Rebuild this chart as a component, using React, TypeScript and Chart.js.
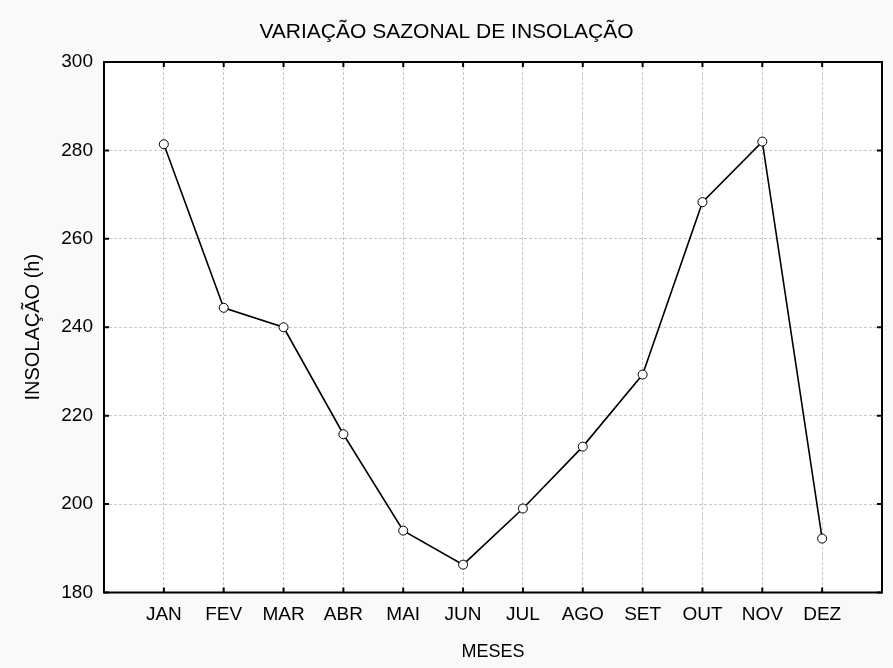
import { useEffect, useRef } from 'react';
import { Chart, registerables } from 'chart.js';

Chart.register(...registerables);

const MONTHS = ['JAN', 'FEV', 'MAR', 'ABR', 'MAI', 'JUN', 'JUL', 'AGO', 'SET', 'OUT', 'NOV', 'DEZ'];
const INSOLACAO = [281.4, 244.4, 240.0, 215.8, 194.0, 186.3, 199.0, 213.0, 229.3, 268.3, 282.0, 192.2];
const Y_TICKS = [180, 200, 220, 240, 260, 280, 300];
const TITLE = 'VARIAÇÃO SAZONAL DE INSOLAÇÃO';
const X_TITLE = 'MESES';
const Y_TITLE = 'INSOLAÇÃO (h)';

const FONT = "'Liberation Sans', Arial, sans-serif";
const TICK_SIZE = 19;
const TITLE_SIZE = 21;
const XTITLE_SIZE = 18;
const YTITLE_SIZE = 20;

export default function App() {
  const ref = useRef<HTMLCanvasElement>(null);

  useEffect(() => {
    const canvas = ref.current;
    if (!canvas) return;

    const framePlugin = {
      id: 'frame',
      beforeDraw(chart: any) {
        const { ctx, chartArea: a, width, height } = chart;
        ctx.save();
        ctx.fillStyle = '#f9f9f9';
        ctx.fillRect(0, 0, width, height);
        ctx.fillStyle = '#ffffff';
        ctx.fillRect(a.left, a.top, a.right - a.left, a.bottom - a.top);
        ctx.restore();
      },
      afterDraw(chart: any) {
        const { ctx, chartArea: a, width } = chart;
        const xs = chart.scales.x;
        const ys = chart.scales.y;
        ctx.save();
        ctx.strokeStyle = '#000000';
        ctx.lineWidth = 2;
        ctx.strokeRect(a.left, a.top, a.right - a.left, a.bottom - a.top);
        const tl = 5;
        ctx.beginPath();
        Y_TICKS.forEach((v) => {
          const py = ys.getPixelForValue(v);
          ctx.moveTo(a.left, py);
          ctx.lineTo(a.left + tl, py);
          ctx.moveTo(a.right, py);
          ctx.lineTo(a.right - tl, py);
        });
        MONTHS.forEach((_m, i) => {
          const px = xs.getPixelForValue(i);
          ctx.moveTo(px, a.top);
          ctx.lineTo(px, a.top + tl);
          ctx.moveTo(px, a.bottom);
          ctx.lineTo(px, a.bottom - tl);
        });
        ctx.stroke();

        ctx.fillStyle = '#000000';
        ctx.textAlign = 'center';
        ctx.textBaseline = 'middle';
        ctx.font = `${TITLE_SIZE}px ${FONT}`;
        ctx.fillText(TITLE, width / 2, 32);
        ctx.font = `${XTITLE_SIZE}px ${FONT}`;
        ctx.fillText(X_TITLE, (a.left + a.right) / 2, 652);
        ctx.font = `${YTITLE_SIZE}px ${FONT}`;
        ctx.translate(33, (a.top + a.bottom) / 2);
        ctx.rotate(-Math.PI / 2);
        ctx.fillText(Y_TITLE, 0, 0);
        ctx.restore();
      },
    };

    const chart = new Chart(canvas, {
      type: 'line',
      data: {
        datasets: [
          {
            data: INSOLACAO.map((v, i) => ({ x: i, y: v })),
            borderColor: '#000000',
            borderWidth: 1.6,
            pointRadius: 4.5,
            pointBackgroundColor: '#ffffff',
            pointBorderColor: '#000000',
            pointBorderWidth: 1,
            tension: 0,
          },
        ],
      },
      options: {
        animation: false,
        responsive: false,
        maintainAspectRatio: false,
        layout: { padding: { top: 62, right: 2, left: 0, bottom: 0 } },
        plugins: { legend: { display: false }, tooltip: { enabled: false }, title: { display: false } },
        scales: {
          x: {
            type: 'linear',
            min: -1,
            max: 12,
            afterFit(scale: any) {
              scale.height = 75.5;
            },
            afterBuildTicks(scale: any) {
              const t = [];
              for (let i = -1; i <= 12; i++) t.push({ value: i });
              scale.ticks = t;
            },
            ticks: {
              autoSkip: false,
              maxRotation: 0,
              padding: 11,
              color: '#000000',
              font: { family: FONT, size: TICK_SIZE },
              callback: (v: any) => (MONTHS[v as number] !== undefined ? MONTHS[v as number] : ''),
            },
            grid: { color: '#c8c8c8', drawTicks: false },
            border: { display: false, dash: [3, 2] },
          },
          y: {
            type: 'linear',
            min: 180,
            max: 300,
            afterFit(scale: any) {
              scale.width = 104;
            },
            ticks: {
              stepSize: 20,
              padding: 11,
              color: '#000000',
              font: { family: FONT, size: TICK_SIZE },
            },
            grid: { color: '#c8c8c8', drawTicks: false },
            border: { display: false, dash: [3, 2] },
          },
        },
      },
      plugins: [framePlugin],
    } as any);

    return () => chart.destroy();
  }, []);

  return (
    <div style={{ position: 'fixed', left: 0, top: 0, width: 893, height: 668 }}>
      <canvas ref={ref} width={893} height={668} style={{ width: 893, height: 668, display: 'block' }} />
    </div>
  );
}
